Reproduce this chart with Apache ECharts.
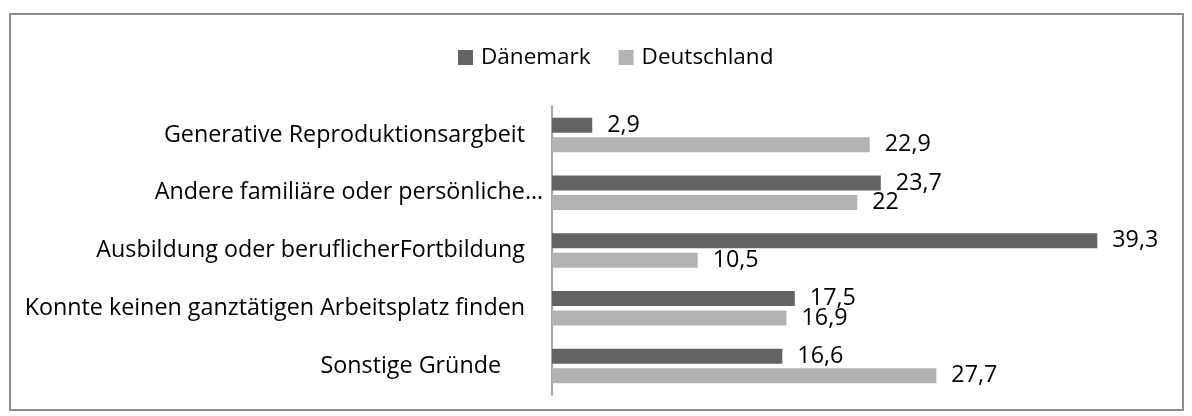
<!DOCTYPE html>
<html>
<head>
<meta charset="utf-8">
<script src="https://cdn.jsdelivr.net/npm/echarts@6/dist/echarts.min.js"></script>
<style>
  html, body { margin: 0; padding: 0; background: #fff; }
  #main { width: 1192px; height: 416px; }
</style>
</head>
<body>
<div id="main"></div>
<script>
const categories = [
  "Generative Reproduktionsargbeit",
  "Andere familiäre oder persönliche…",
  "Ausbildung oder beruflicherFortbildung",
  "Konnte keinen ganztätigen Arbeitsplatz finden",
  "Sonstige Gründe",
];
const seriesNames = ["Dänemark", "Deutschland"];
const daenemark = [2.9, 23.7, 39.3, 17.5, 16.6];
const deutschland = [22.9, 22, 10.5, 16.9, 27.7];

const chart = echarts.init(document.getElementById("main"));

const font = { fontFamily: "Open Sans", fontSize: 23.3, color: "#000" };

// Excel left some labels with odd right edges (trailing spaces / overflow)
const labelPad = {
  "Andere familiäre oder persönliche…": 0,
  "Sonstige Gründe": 42,
};

const barLabel = {
  show: true,
  position: "right",
  distance: 15,
  ...font,
  formatter: (p) => String(p.value).replace(".", ","),
};

const options = {
  animation: false,
  backgroundColor: "#fff",
  graphic: [
    {
      type: "rect",
      shape: { x: 10, y: 14, width: 1173, height: 396 },
      style: { fill: "none", stroke: "#8c8c8c", lineWidth: 2 },
      silent: true,
    },
  ],
  legend: {
    data: seriesNames,
    left: 453,
    top: 41,
    icon: "rect",
    itemWidth: 15,
    itemHeight: 15,
    itemGap: 28,
    textStyle: { ...font, fontSize: 22.5, padding: [0, 0, 0, 3] },
  },
  grid: { left: 552, top: 106, bottom: 21, right: 85 },
  xAxis: {
    type: "value",
    min: 0,
    max: 40,
    show: false,
    splitLine: { show: false },
  },
  yAxis: {
    type: "category",
    data: categories,
    inverse: true,
    axisTick: { show: false },
    axisLine: { lineStyle: { color: "#888", width: 1.5 } },
    axisLabel: {
      margin: 9,
      ...font,
      formatter: (v) => {
        if (v === "Sonstige Gründe") return "{s|" + v + "}";
        if (v in labelPad) return "{e|" + v + "}";
        return "{n|" + v + "}";
      },
      rich: {
        n: { ...font, padding: [0, 18, 0, 0] },
        e: { ...font, padding: [0, labelPad["Andere familiäre oder persönliche…"], 0, 0] },
        s: { ...font, padding: [0, labelPad["Sonstige Gründe"], 0, 0] },
      },
    },
  },
  series: [
    {
      name: seriesNames[0],
      type: "bar",
      barWidth: 15,
      barGap: "30%",
      itemStyle: { color: "#646464" },
      label: barLabel,
      data: daenemark,
    },
    {
      name: seriesNames[1],
      type: "bar",
      barWidth: 15,
      itemStyle: { color: "#b3b3b3" },
      label: barLabel,
      data: deutschland,
    },
  ],
};

chart.setOption(options);
</script>
</body>
</html>
